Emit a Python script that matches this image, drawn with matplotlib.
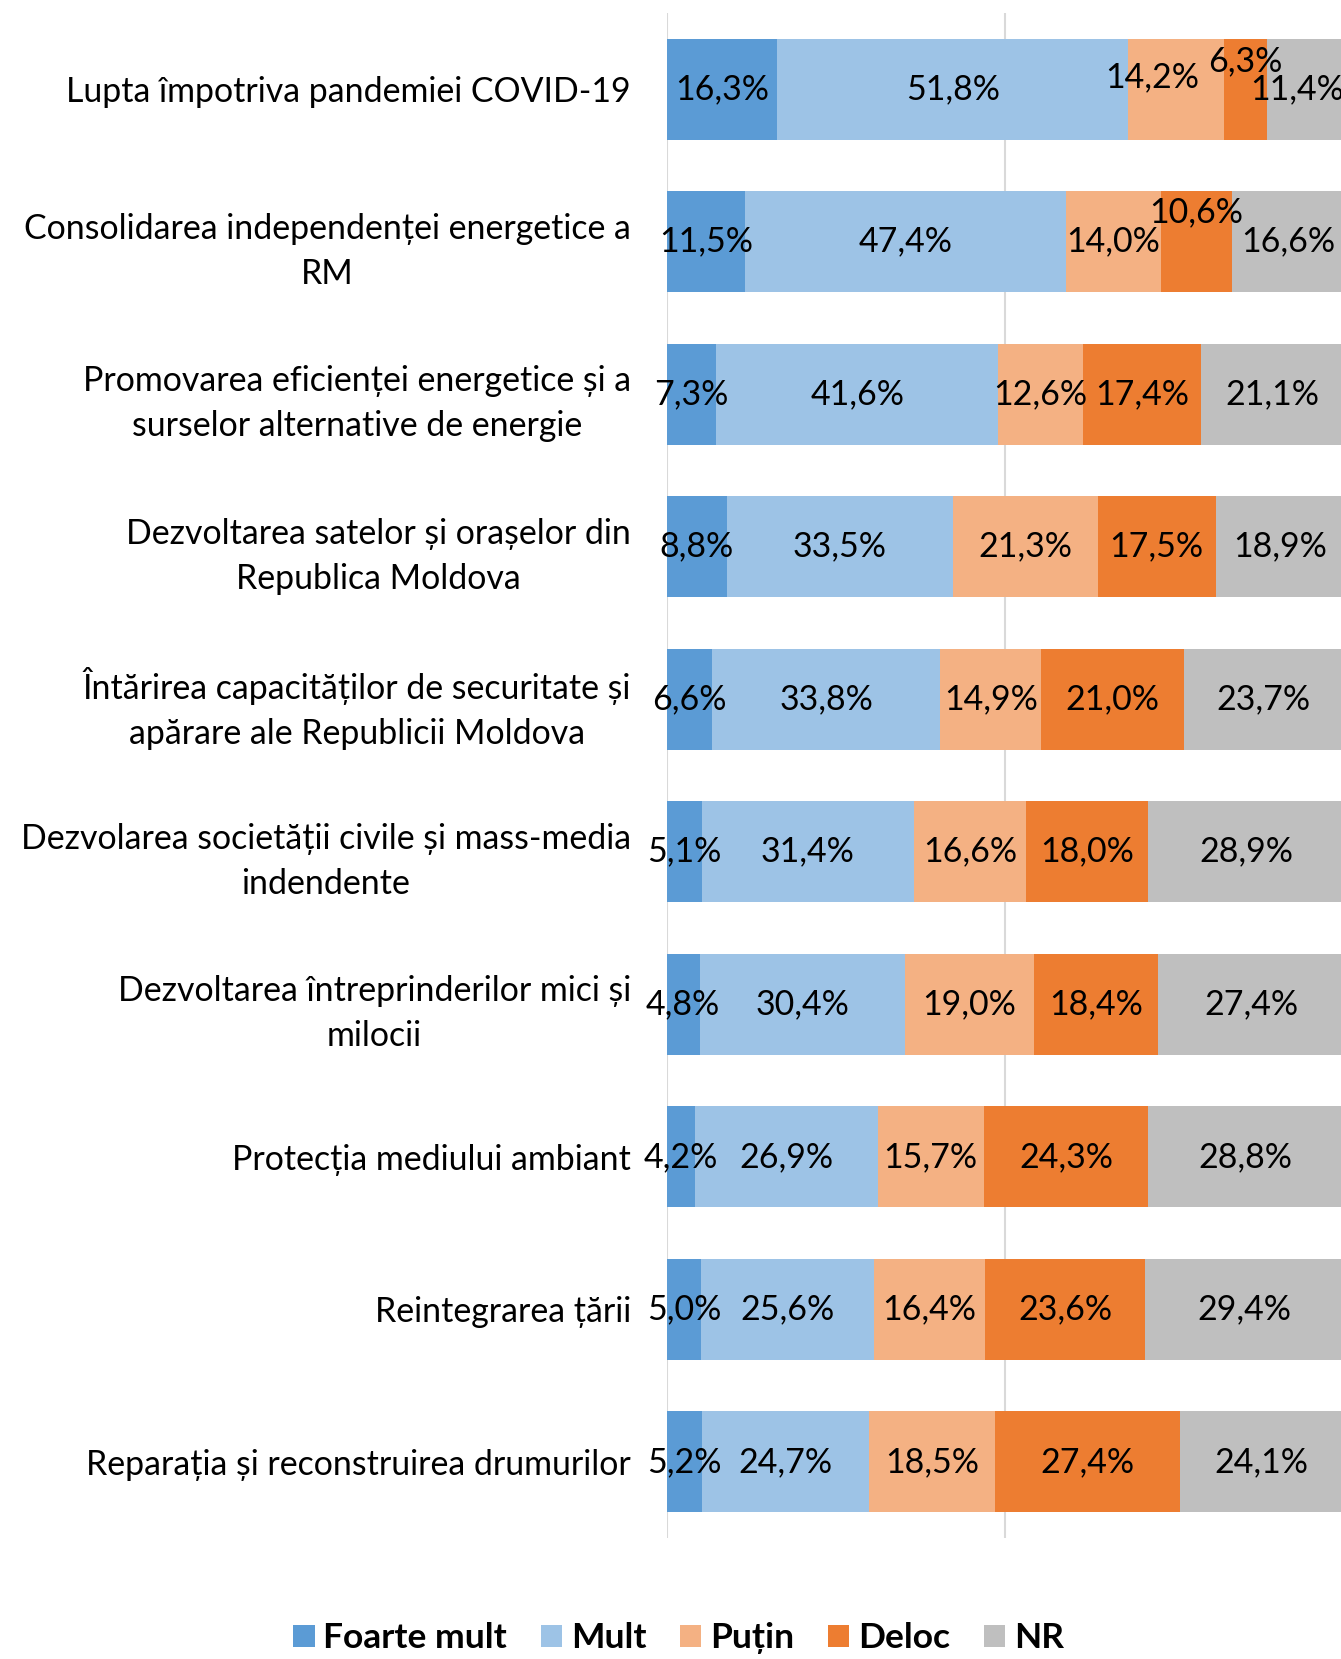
import matplotlib
matplotlib.use("Agg")
import matplotlib.pyplot as plt
import numpy as np

categories = [
    "Lupta împotriva pandemiei COVID-19",
    "Consolidarea independenței energetice a\nRM",
    "Promovarea eficienței energetice și a\nsurselor alternative de energie",
    "Dezvoltarea satelor și orașelor din\nRepublica Moldova",
    "Întărirea capacităților de securitate și\napărare ale Republicii Moldova",
    "Dezvolarea societății civile și mass-media\nindendente",
    "Dezvoltarea întreprinderilor mici și\nmilocii",
    "Protecția mediului ambiant",
    "Reintegrarea țării",
    "Reparația și reconstruirea drumurilor",
]
series_names = ["Foarte mult", "Mult", "Puțin", "Deloc", "NR"]
foarte_mult = [16.3, 11.5, 7.3, 8.8, 6.6, 5.1, 4.8, 4.2, 5.0, 5.2]
mult = [51.8, 47.4, 41.6, 33.5, 33.8, 31.4, 30.4, 26.9, 25.6, 24.7]
putin = [14.2, 14.0, 12.6, 21.3, 14.9, 16.6, 19.0, 15.7, 16.4, 18.5]
deloc = [6.3, 10.6, 17.4, 17.5, 21.0, 18.0, 18.4, 24.3, 23.6, 27.4]
nr = [11.4, 16.6, 21.1, 18.9, 23.7, 28.9, 27.4, 28.8, 29.4, 24.1]
colors = ["#5B9BD5", "#9DC3E6", "#F4B183", "#ED7D31", "#BFBFBF"]

# manual label nudges (series index, row index) -> (dx in %, dy in rows)
label_nudge = {(2, 0): (-3.5, -0.08), (3, 0): (0.0, -0.18), (4, 0): (-1.2, 0.0),
               (3, 1): (0.0, -0.19)}

FONT = "Lato"
plt.rcParams["font.family"] = [FONT, "DejaVu Sans"]

fig = plt.figure(figsize=(13.41, 16.59), dpi=100)
ax = fig.add_axes([0.4974, 0.0729, 0.5048, 0.9193])

data = [foarte_mult, mult, putin, deloc, nr]
y = np.arange(len(categories))
left = np.zeros(len(categories))
for si, (vals, col, name) in enumerate(zip(data, colors, series_names)):
    vals = np.array(vals)
    ax.barh(y, vals, left=left, height=0.66, color=col, label=name, zorder=2)
    for ri, (l, v) in enumerate(zip(left, vals)):
        dx, dy = label_nudge.get((si, ri), (0, 0))
        ax.text(l + v / 2 + dx, ri + dy, f"{v:.1f}%".replace(".", ","),
                ha="center", va="center", fontsize=24.5, color="black", zorder=3)
    left += vals

ax.set_xlim(0, 100)
ax.set_ylim(len(categories) - 0.5, -0.5)
ax.set_yticks(y)
ax.set_yticklabels(categories, fontsize=24.4, multialignment="center",
                   linespacing=1.5)
ax.tick_params(axis="y", length=0, pad=26)
ax.tick_params(axis="x", length=0, labelbottom=False)
ax.set_xticks([0, 50, 100])
ax.grid(axis="x", color="#D9D9D9", linewidth=1.5, zorder=0)
for s in ax.spines.values():
    s.set_visible(False)

fig.legend(loc="center", bbox_to_anchor=(0.506, 0.0125), ncol=5, frameon=False,
           prop={"family": FONT, "weight": "bold", "size": 25.5},
           handlelength=0.6, handleheight=0.6, handletextpad=0.25,
           columnspacing=0.95, borderpad=0.0)

fig.savefig("out.png", dpi=100)
